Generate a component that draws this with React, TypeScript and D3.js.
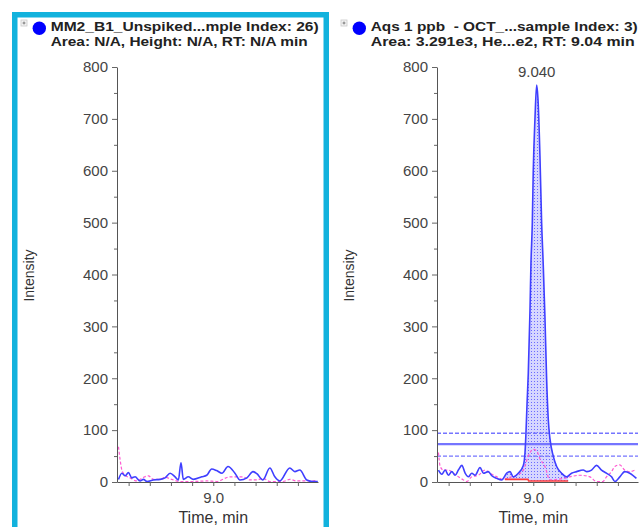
import React, { useEffect, useRef } from "react";
import * as d3 from "d3";

// axes
const X_DOMAIN = [8.09, 9.99];
const Y_DOMAIN = [0, 800];
const yMajorTicks = [0, 100, 200, 300, 400, 500, 600, 700, 800];
const yMinorTicks = [50, 150, 250, 350, 450, 550, 650, 750];
const xTicks = [8.2, 8.4, 8.6, 8.8, 9.0, 9.2, 9.4, 9.6, 9.8];
const xTickLabels = [9.0];

// titles
const leftTitle = ["MM2_B1_Unspiked...mple Index: 26)", "Area: N/A, Height: N/A, RT: N/A min"];
const rightTitle = ["Aqs 1 ppb  - OCT_...sample Index: 3)", "Area: 3.291e3, He...e2, RT: 9.04 min"];
const leftTitleWidths = [268, 257];
const rightTitleWidths = [267, 264];
const peakLabel = "9.040";

// left panel (unspiked)
const leftBlueT = [8.104, 8.136, 8.167, 8.198, 8.23, 8.261, 8.308, 8.34, 8.372, 8.434, 8.497, 8.544, 8.592, 8.639, 8.67, 8.695, 8.717, 8.764, 8.811, 8.891, 8.938, 8.985, 9.032, 9.082, 9.139, 9.205, 9.252, 9.318, 9.375, 9.412, 9.469, 9.535, 9.582, 9.629, 9.723, 9.771, 9.818, 9.884, 9.941, 9.988];
const leftBlueV = [5, 17, 12, 18, 8, 10, 2, 5, 1, 4, 5, 8, 17, 10, 4, 37, 5, 10, 5, 10, 13, 25, 22, 17, 30, 17, 4, 8, 20, 16, 4, 27, 10, 2, 27, 20, 23, 4, 1, 1];
const leftPinkT = [8.104, 8.12, 8.136, 8.167, 8.214, 8.277, 8.34, 8.387, 8.434, 8.497, 8.544, 8.608, 8.686, 8.808, 8.938, 9.032, 9.158, 9.28, 9.347, 9.412, 9.469, 9.535, 9.658, 9.723, 9.789, 9.912, 9.978];
const leftPinkV = [68, 42, 23, 13, 8, 2, 9, 12, 5, 5, 9, 5, 1, 1, 2, 1, 10, 10, 4, 4, 7, 1, 1, 5, 2, 2, 3];

// right panel (1 ppb standard)
const rightBlueT = [8.104, 8.136, 8.167, 8.198, 8.23, 8.261, 8.292, 8.325, 8.356, 8.387, 8.419, 8.45, 8.497, 8.528, 8.575, 8.608, 8.655, 8.702, 8.749, 8.78, 8.811, 8.858, 8.906, 8.922, 8.931, 8.941, 8.953, 8.969, 8.978, 8.991, 9.0, 9.016, 9.032, 9.044, 9.063, 9.079, 9.094, 9.11, 9.126, 9.142, 9.158, 9.189, 9.221, 9.268, 9.315, 9.362, 9.409, 9.472, 9.507, 9.551, 9.598, 9.645, 9.692, 9.74, 9.771, 9.818, 9.865, 9.912, 9.975];
const rightBlueV = [23, 15, 23, 13, 20, 13, 23, 32, 17, 10, 17, 13, 28, 17, 20, 12, 7, 4, 17, 20, 10, 17, 32, 57, 95, 150, 210, 330, 420, 500, 600, 700, 765, 740, 630, 500, 420, 320, 200, 120, 83, 50, 30, 17, 10, 17, 20, 23, 20, 23, 32, 23, 17, 10, 1, 10, 20, 17, 7];
const rightPinkT = [8.104, 8.12, 8.151, 8.198, 8.245, 8.292, 8.34, 8.372, 8.419, 8.481, 8.544, 8.592, 8.655, 8.717, 8.78, 8.843, 8.906, 8.953, 9.0, 9.032, 9.063, 9.11, 9.158, 9.283, 9.346, 9.441, 9.535, 9.598, 9.658, 9.692, 9.74, 9.771, 9.818, 9.865, 9.912, 9.959];
const rightPinkV = [57, 30, 23, 23, 17, 10, 4, 1, 10, 13, 23, 17, 10, 5, 9, 13, 23, 50, 63, 60, 45, 30, 4, 7, 10, 13, 10, 1, 1, 10, 20, 30, 33, 23, 20, 23];
const baselineT = [8.733, 8.95, 8.956, 9.33];
const baselineV = [5, 5, 2, 2];
const levelLines = [94, 73, 50];

const PLOT_TOP = 67;
const PLOT_BOTTOM = 482;
const PLOT_W = 201;
const FONT = "'Liberation Sans', Arial, sans-serif";

const Panel = ({ x0, title, titleWidths, blueT, blueV, pinkT, pinkV, selected, peak }: any) => {
  const yAxisRef = useRef(null);
  const yMinorRef = useRef(null);
  const xAxisRef = useRef(null);

  const x = d3.scaleLinear().domain(X_DOMAIN).range([x0, x0 + PLOT_W]);
  const y = d3.scaleLinear().domain(Y_DOMAIN).range([PLOT_BOTTOM, PLOT_TOP]);

  useEffect(() => {
    const ya = d3.select(yAxisRef.current);
    ya.call(d3.axisLeft(y).tickValues(yMajorTicks).tickSize(5).tickPadding(4).tickSizeOuter(0) as any);
    ya.selectAll("text").attr("font-family", FONT).attr("font-size", 15).attr("fill", "#444");
    ya.selectAll("line").attr("stroke", "#666");
    ya.select(".domain").attr("stroke", "#555");

    const ym = d3.select(yMinorRef.current);
    ym.call(d3.axisLeft(y).tickValues(yMinorTicks).tickSize(3).tickFormat(() => "").tickSizeOuter(0) as any);
    ym.select(".domain").remove();
    ym.selectAll("line").attr("stroke", "#666");

    const xa = d3.select(xAxisRef.current);
    xa.call(
      d3
        .axisBottom(x)
        .tickValues(xTicks)
        .tickSize(4)
        .tickPadding(6)
        .tickSizeOuter(0)
        .tickFormat((d: any) => (xTickLabels.some(v => Math.abs(v - d) < 1e-6) ? d3.format(".1f")(d) : "")) as any
    );
    xa.selectAll("text").attr("font-family", FONT).attr("font-size", 15).attr("fill", "#444");
    xa.selectAll("line").attr("stroke", "#666");
    xa.select(".domain").attr("stroke", "#555");
  }, [x0]);

  const line = d3
    .line<number>()
    .x(d => x(d[0]))
    .y(d => y(d[1]))
    .curve(d3.curveMonotoneX);

  const bluePts = blueT.map((t: number, i: number) => [t, blueV[i]]);
  const pinkPts = pinkT.map((t: number, i: number) => [t, pinkV[i]]);

  let peakArea = null;
  let apex: any = null;
  if (peak) {
    const blueAt = d3.scaleLinear().domain(blueT).range(blueV);
    const baseAt = d3.scaleLinear().domain(baselineT).range(baselineV);
    const t0 = baselineT[0];
    const t1 = baselineT[baselineT.length - 1];
    const ts = [t0, ...blueT.filter((t: number) => t > t0 && t < t1), t1];
    const area = d3
      .area<number>()
      .x(t => x(t))
      .y0(t => y(baseAt(t)))
      .y1(t => y(blueAt(t)));
    peakArea = area(ts);
    apex = d3.greatest(bluePts, (d: any) => d[1]);
  }

  const basePts = baselineT.map((t, i) => [t, baselineV[i]]);

  return (
    <g>
      {selected && (
        <rect x={14.75} y={14.75} width={311.5} height={620} fill="none" stroke="#12b2dd" strokeWidth={5.5} />
      )}
      <rect x={x0 - 96} y={20} width={6} height={6} fill="#f4f4f4" stroke="#c8c8c8" strokeWidth={0.8} />
      <path d={`M${x0 - 94.5},23 h3 M${x0 - 93},21.5 v3`} stroke="#666" strokeWidth={0.8} />
      <circle cx={x0 - 77.7} cy={28.3} r={6.7} fill="#0000ff" />
      {title.map((s: string, i: number) => (
        <text
          key={i}
          x={x0 - 66.3}
          y={31 + i * 15.4}
          fontFamily={FONT}
          fontWeight="bold"
          fontSize={13.5}
          fill="#222"
          textLength={titleWidths[i]}
          lengthAdjust="spacingAndGlyphs"
          style={{ whiteSpace: "pre" }}
        >
          {s}
        </text>
      ))}

      {peak && <path d={peakArea as any} fill="url(#hatch)" stroke="none" />}
      {peak &&
        levelLines.map((v, i) => (
          <line
            key={v}
            x1={x0}
            x2={x0 + PLOT_W}
            y1={y(v)}
            y2={y(v)}
            stroke="#7575ff"
            strokeWidth={i === 1 ? 2.2 : 1.3}
            strokeDasharray={i === 1 ? undefined : "4 2"}
          />
        ))}

      <path d={line(pinkPts as any) as any} fill="none" stroke="#ff5ad2" strokeWidth={1.2} strokeDasharray="3 2" />
      <path d={line(bluePts as any) as any} fill="none" stroke="#3f3fff" strokeWidth={1.6} />
      {peak && (
        <path
          d={d3.line<number>().x(d => x(d[0])).y(d => y(d[1]))(basePts as any) as any}
          fill="none"
          stroke="#ff3b3b"
          strokeWidth={1.6}
        />
      )}
      {peak && apex && (
        <text x={x(apex[0])} y={y(apex[1]) - 8} textAnchor="middle" fontFamily={FONT} fontSize={15} fill="#444">
          {peakLabel}
        </text>
      )}

      <g ref={yMinorRef} transform={`translate(${x0},0)`} />
      <g ref={yAxisRef} transform={`translate(${x0},0)`} />
      <g ref={xAxisRef} transform={`translate(0,${PLOT_BOTTOM})`} />

      <text
        transform={`translate(${x0 - 83},${(PLOT_TOP + PLOT_BOTTOM) / 2 + 1}) rotate(-90)`}
        textAnchor="middle"
        fontFamily={FONT}
        fontSize={14}
        fill="#333"
      >
        Intensity
      </text>
      <text x={x(9.0)} y={522.5} textAnchor="middle" fontFamily={FONT} fontSize={16} fill="#333">
        Time, min
      </text>
    </g>
  );
};

const App = () => {
  return (
    <svg width={641} height={527} style={{ position: "absolute", left: 0, top: 0, background: "#fff" }}>
      <defs>
        <pattern id="hatch" width={3} height={3} patternUnits="userSpaceOnUse">
          <rect width={3} height={3} fill="#d6d6ff" />
          <rect width={1} height={1} fill="#6a6aff" />
        </pattern>
      </defs>
      <Panel
        x0={117}
        title={leftTitle}
        titleWidths={leftTitleWidths}
        blueT={leftBlueT}
        blueV={leftBlueV}
        pinkT={leftPinkT}
        pinkV={leftPinkV}
        selected
      />
      <Panel
        x0={437}
        title={rightTitle}
        titleWidths={rightTitleWidths}
        blueT={rightBlueT}
        blueV={rightBlueV}
        pinkT={rightPinkT}
        pinkV={rightPinkV}
        peak
      />
    </svg>
  );
};

export default App;
